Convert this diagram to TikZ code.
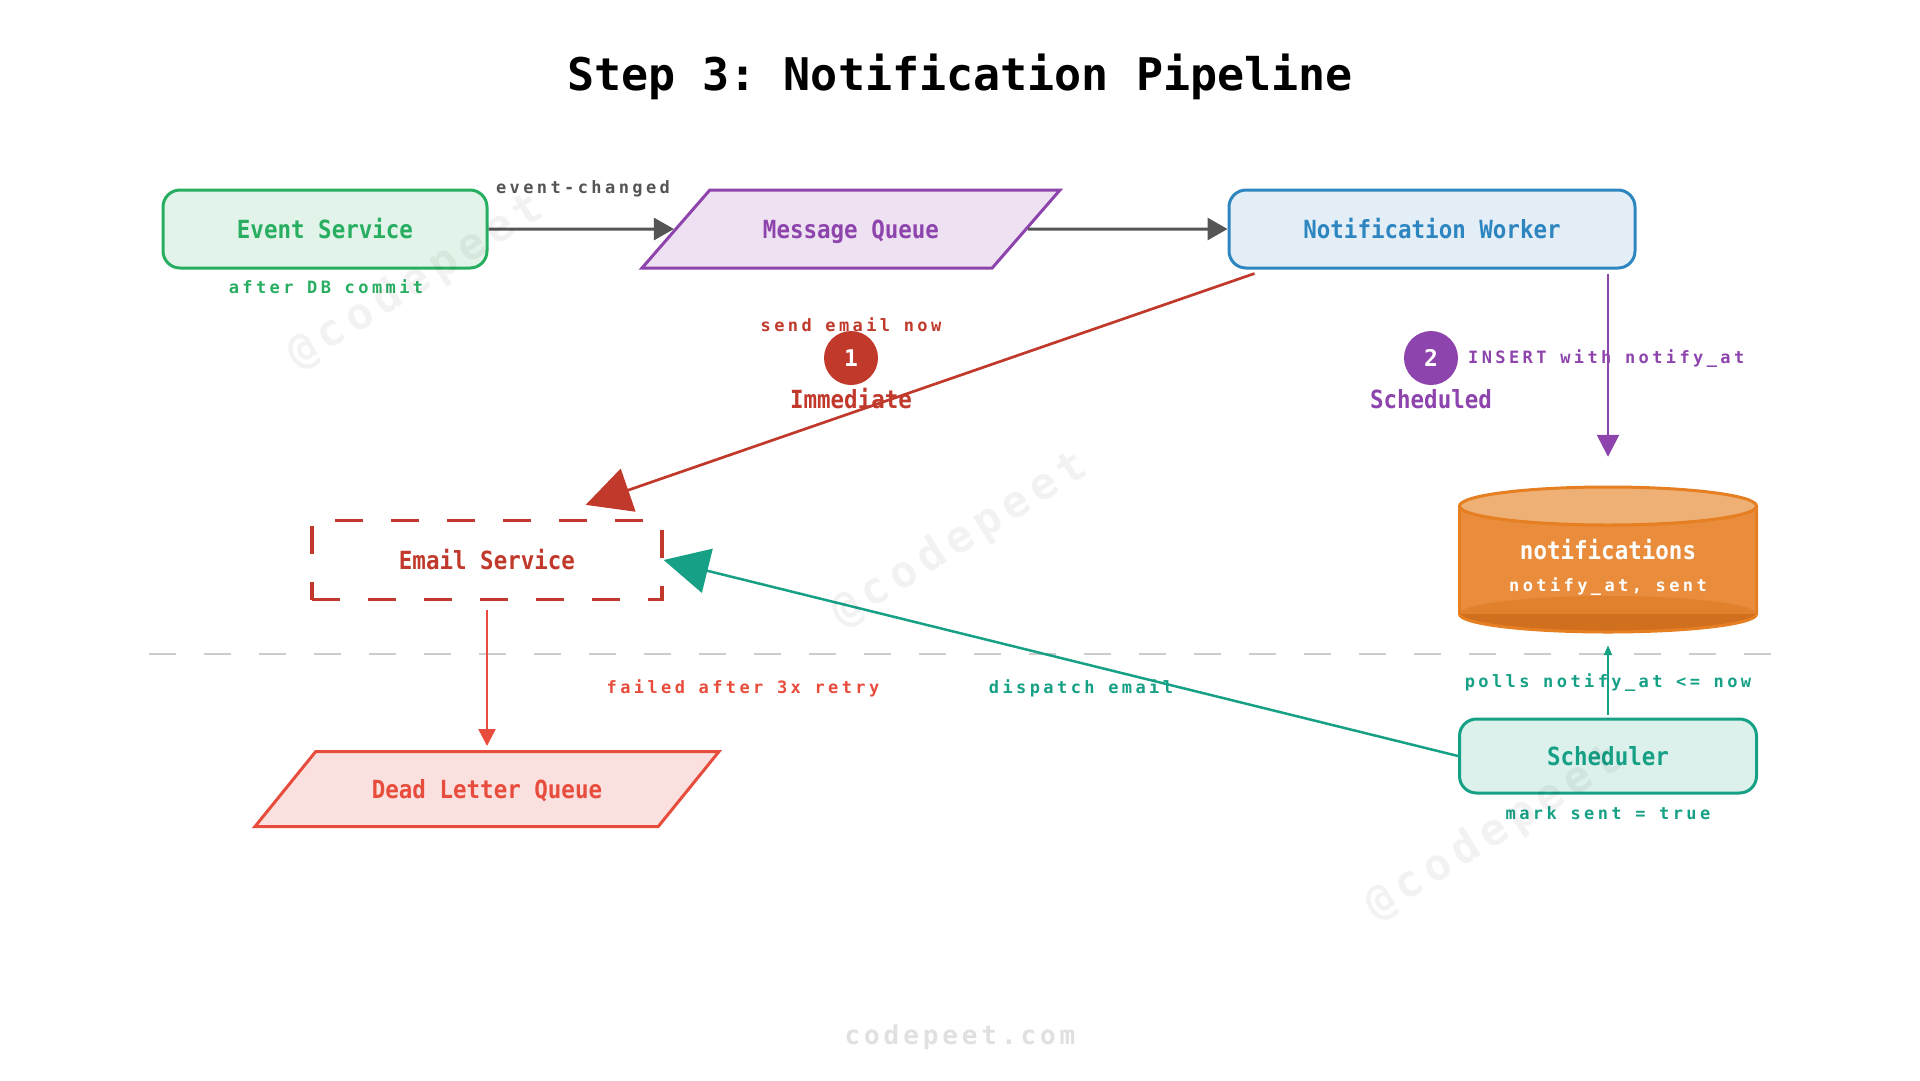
\documentclass[tikz,border=0pt]{standalone}
\usepackage{fontspec}
\setmainfont{DejaVu Sans Mono}
\newfontfamily\labelmono{DejaVu Sans Mono}[FakeStretch=0.9]
\newfontfamily\spacedmono{DejaVu Sans Mono}[LetterSpace=20]
\newfontfamily\widemono{DejaVu Sans Mono}[LetterSpace=15]
\usepackage{tikz}
\usetikzlibrary{shapes.geometric,arrows.meta,positioning,calc}
\definecolor{evgreen}{HTML}{27AE60}
\definecolor{evfill}{HTML}{E2F4E9}
\definecolor{mqpurple}{HTML}{8E44AD}
\definecolor{mqfill}{HTML}{EEE2F2}
\definecolor{nwblue}{HTML}{2E86C1}
\definecolor{nwfill}{HTML}{E3EEF7}
\definecolor{emred}{HTML}{C0392B}
\definecolor{dlqred}{HTML}{E74C3C}
\definecolor{dlqfill}{HTML}{FAE1DF}
\definecolor{scteal}{HTML}{16A085}
\definecolor{scfill}{HTML}{DDF1EC}
\definecolor{dborange}{HTML}{E67E22}
\definecolor{dbbody}{HTML}{E98C3B}
\definecolor{dbtop}{HTML}{EEB074}
\definecolor{dbmid}{HTML}{E1812E}
\definecolor{dbdark}{HTML}{D0701F}
\definecolor{flowgray}{HTML}{555555}
\definecolor{sepgray}{HTML}{CCCCCC}
\frenchspacing

\begin{document}
\begin{tikzpicture}[x=1pt,y=-1pt,every node/.style={font=\labelmono\fontsize{25}{30}\selectfont\bfseries},
  box/.style={draw,rounded corners=17pt,line width=3pt,minimum height=78pt,text height=18pt,text depth=0pt},
  queue/.style={draw,trapezium,trapezium stretches body,line width=3pt,text height=18pt,text depth=0pt},
  lbl/.style={font=\spacedmono\fontsize{17}{20}\selectfont\bfseries,inner sep=0pt,text height=13.5pt,text depth=0pt},
  badge/.style={circle,inner sep=0pt,minimum size=54pt,text=white,font=\fontsize{23}{27}\selectfont\bfseries},
  wmark/.style={rotate=32,text=black,text opacity=0.05,font=\widemono\fontsize{44}{50}\selectfont\bfseries},
  flow/.style={draw=flowgray,line width=3pt,-{Triangle[length=20pt,width=22pt]}}]
\useasboundingbox (0,0) rectangle (1920,1080);
\node[font=\fontsize{45}{54}\selectfont\bfseries] (title) at (960,77) {Step 3: Notification Pipeline};
\coordinate (sepL) at (149,654); \coordinate (sepR) at (1771,654);
\draw[sepgray,line width=2pt,dash pattern=on 27pt off 28pt] (sepL) -- (sepR);
\node[box,draw=evgreen,fill=evfill,text=evgreen,minimum width=324pt] (es) at (325,229) {Event Service};
\node[queue,draw=mqpurple,fill=mqfill,text=mqpurple,inner ysep=30pt,minimum width=418pt,trapezium left angle=49,trapezium right angle=131] (mq) at (851,229) {Message Queue};
\node[box,draw=nwblue,fill=nwfill,text=nwblue,minimum width=406pt] (nw) at (1432,229) {Notification Worker};
\node[draw=emred,line width=3.3pt,dash pattern=on 28pt off 28pt,text=emred,minimum width=350pt,minimum height=79pt,text height=18pt,text depth=0pt] (email) at (487,560) {Email Service};
\node[queue,draw=dlqred,fill=dlqfill,text=dlqred,inner ysep=28.5pt,minimum width=464pt,trapezium left angle=51,trapezium right angle=129] (dlq) at (487,789) {Dead Letter Queue};
\node[box,draw=scteal,fill=scfill,text=scteal,minimum width=297pt,minimum height=74pt] (sched) at (1608,756) {Scheduler};
\fill[dbbody] (1459.5,506) rectangle (1756.5,614);
\fill[dbmid] (1608,614) ellipse[x radius=148.5,y radius=18];
\fill[dbdark] (1459.5,614) arc[start angle=180,end angle=0,x radius=148.5,y radius=18] -- cycle;
\draw[dborange,line width=3pt] (1459.5,506) -- (1459.5,614) arc[start angle=180,end angle=0,x radius=148.5,y radius=18] -- (1756.5,506);
\draw[dborange,line width=3pt,fill=dbtop] (1608,506) ellipse[x radius=148.5,y radius=19];
\node[inner sep=0pt,minimum width=297pt,minimum height=148pt] (db) at (1608,560) {};
\node[text=white,text height=18pt,text depth=0pt] (dbname) at (1608,550) {notifications};
\node[lbl,text=white] (dbcols) at (1608,585) {notify\_at, sent};
\node[lbl,text=flowgray] (evlbl) at (583,187) {event-changed};
\node[lbl,text=evgreen] (commit) at (326,287) {after DB commit};
\node[lbl,text=emred] (nowlbl) at (851,325) {send email now};
\node[badge,fill=emred] (b1) at (851,358) {1};
\node[text=emred] (imm) at (851,399) {Immediate};
\node[badge,fill=mqpurple] (b2) at (1431,358) {2};
\node[text=mqpurple] (sch) at (1431,399) {Scheduled};
\node[lbl,text=mqpurple,anchor=west] (inslbl) at (1468,357) {INSERT with notify\_at};
\node[lbl,text=dlqred] (faillbl) at (743,687) {failed after 3x retry};
\node[lbl,text=scteal] (displbl) at (1081,687) {dispatch email};
\node[lbl,text=scteal] (polllbl) at (1608,681) {polls notify\_at <= now};
\node[lbl,text=scteal] (marklbl) at (1608,813) {mark sent = true};
\node[font=\widemono\fontsize{26}{30}\selectfont\bfseries,text=black!12] (site) at (960,1037) {codepeet.com};
\draw[flow] (es) -- (mq);
\draw[flow] (mq) -- (nw);
\draw[emred,line width=2.7pt,-{Triangle[length=45pt,width=45pt]}] ($(nw.south west)+(27,4)$) -- ($(email.north east)+(-78,-14)$);
\draw[mqpurple,line width=2.5pt,-{Triangle[length=22pt,width=22pt]},shorten <=4pt,shorten >=29pt] (nw.south -| db) -- (db);
\draw[dlqred,line width=2.5pt,-{Triangle[length=17pt,width=17pt]},shorten <=9pt,shorten >=4pt] (email) -- (dlq);
\draw[scteal,line width=2.5pt,-{Triangle[length=45pt,width=45pt]}] (sched.west) -- (email.east);
\draw[scteal,line width=2pt,-{Triangle[length=10pt,width=8pt]},shorten <=3pt,shorten >=11pt] (sched) -- (db);
\node[wmark] (wm1) at (416,282) {@codepeet};
\node[wmark] (wm2) at (960,540) {@codepeet};
\node[wmark] (wm3) at (1494,833) {@codepeet};
\end{tikzpicture}
\end{document}
